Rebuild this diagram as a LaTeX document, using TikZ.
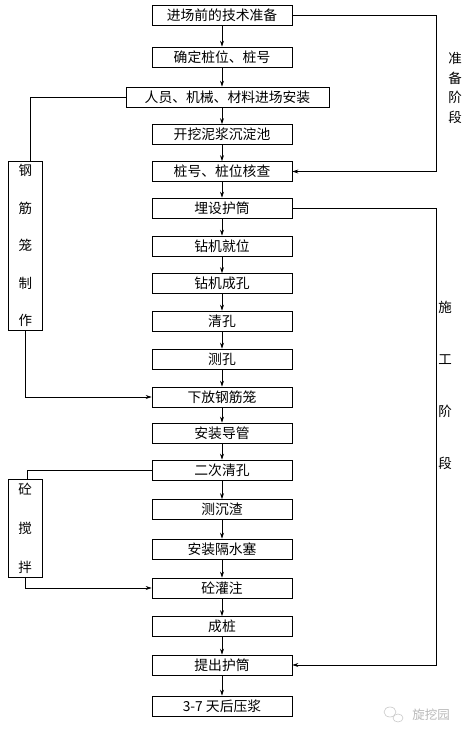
\documentclass[tikz,border=0pt]{standalone}
\usepackage{fontspec}
\newfontfamily\cjk{Noto Sans CJK SC}
\usetikzlibrary{arrows.meta}
\tikzset{
  stepbox/.style={draw, minimum width=140pt, minimum height=20pt, inner sep=0pt,
    font=\cjk\fontsize{13.8}{15}\selectfont},
  sidebox/.style={draw, minimum width=34pt, inner sep=0pt, align=center},
  flow/.style={-{Stealth[length=6pt,width=4pt]}},
}
\begin{document}
\begin{tikzpicture}[x=1pt,y=-1pt,line width=0.7pt]
\useasboundingbox (0,0) rectangle (470,737);
% main steps
\node[stepbox] (s1) at (222,15.5) {进场前的技术准备};
\node[stepbox] (s2) at (222,57) {确定桩位、桩号};
\node[stepbox, minimum width=203pt] (s3) at (227.5,97) {人员、机械、材料进场安装};
\node[stepbox] (s4) at (222,134.5) {开挖泥浆沉淀池};
\node[stepbox] (s5) at (222,171.5) {桩号、桩位核查};
\node[stepbox] (s6) at (222,208) {埋设护筒};
\node[stepbox] (s7) at (222,246) {钻机就位};
\node[stepbox] (s8) at (222,283.5) {钻机成孔};
\node[stepbox] (s9) at (222,321) {清孔};
\node[stepbox] (s10) at (222,359) {测孔};
\node[stepbox] (s11) at (222,397) {下放钢筋笼};
\node[stepbox] (s12) at (222,433) {安装导管};
\node[stepbox] (s13) at (222,470) {二次清孔};
\node[stepbox] (s14) at (222,509.5) {测沉渣};
\node[stepbox] (s15) at (222,549) {安装隔水塞};
\node[stepbox] (s16) at (222,588) {砼灌注};
\node[stepbox] (s17) at (222,626.5) {成桩};
\node[stepbox] (s18) at (222,665) {提出护筒};
\node[stepbox] (s19) at (222,706) {3-7 天后压浆};
\foreach \a/\b in {s1/s2,s2/s3,s3/s4,s4/s5,s5/s6,s6/s7,s7/s8,s8/s9,s9/s10,
  s10/s11,s11/s12,s12/s13,s13/s14,s14/s15,s15/s16,s16/s17,s17/s18,s18/s19}
  \draw[flow] (s1 |- \a.south) -- (s1 |- \b.north);
% side work
\node[sidebox, minimum height=169pt, font=\cjk\fontsize{13.5}{37.5}\selectfont] (cage) at (25.5,245.5) {钢\\筋\\笼\\制\\作};
\node[sidebox, minimum height=98pt, font=\cjk\fontsize{13.5}{39}\selectfont] (mix) at (25,528) {砼\\搅\\拌};
\draw (s3.west) -| ([xshift=4.5pt]cage.north);
\draw[flow] ([xshift=-0.5pt]cage.south) |- (s11.west);
\draw (s13.west) -| ([xshift=2pt]mix.north);
\draw[flow] (mix.south) |- (s16.west);
% stages
\coordinate (rail) at (436,0);
\draw[flow] (s1.east) -- (s1.east -| rail) -- (s5.east -| rail) -- (s5.east);
\draw[flow] (s6.east) -- (s6.east -| rail) -- (s18.east -| rail) -- (s18.east);
\node[align=center, font=\cjk\fontsize{13.5}{19.5}\selectfont] (prep) at (455,88) {准\\备\\阶\\段};
\node[align=center, font=\cjk\fontsize{13.5}{52}\selectfont] (build) at (445,385) {施\\工\\阶\\段};
% watermark
\draw[gray!45, line width=0.6pt] (390,712) ellipse (6pt and 5pt);
\draw[gray!45, line width=0.6pt] (398,718) ellipse (5pt and 4pt);
\node[text=gray!55, font=\cjk\fontsize{12.5}{14}\selectfont] (mark) at (431,715) {旋挖园};
\end{tikzpicture}
\end{document}
